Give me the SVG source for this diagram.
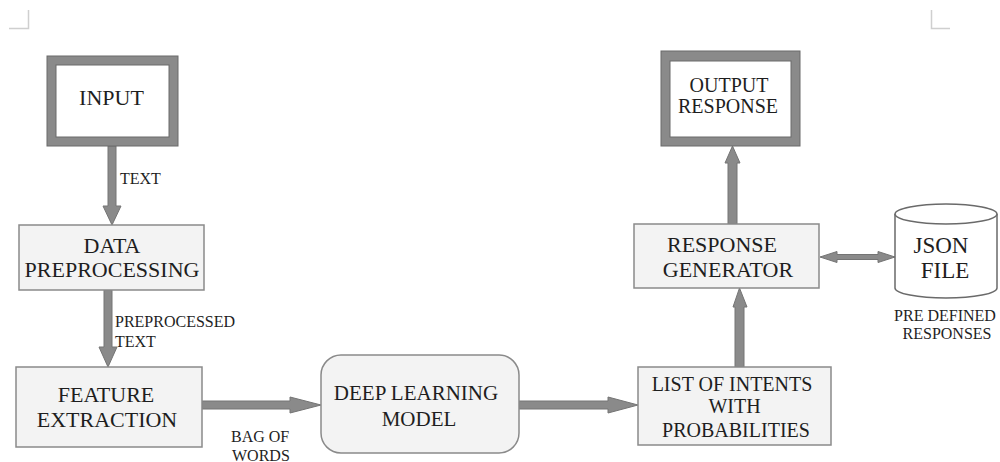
<svg xmlns="http://www.w3.org/2000/svg" width="1000" height="462" viewBox="0 0 1000 462">
<style>
.bg{fill:#ffffff}
.box{fill:#f3f3f3;stroke:#8a8a8a;stroke-width:1.5}
.frame{fill:#8a8a8a;stroke:#6a6a6a;stroke-width:1}
.inner{fill:#ffffff;stroke:#6a6a6a;stroke-width:1}
.arr{fill:#8a8a8a;stroke:#747474;stroke-width:1;stroke-linejoin:round}
.cyl{fill:#ffffff;stroke:#6a6a6a;stroke-width:1.5}
.mark{fill:none;stroke:#cfcfcf;stroke-width:1.5}
text{fill:#1e1e1e;font-family:'Times New Roman','Liberation Serif',Tinos,'DejaVu Serif',serif}
.t{font-size:22px;text-anchor:middle}
.m{font-size:20px;text-anchor:middle}
.s{font-size:16px}
.sc{font-size:16px;text-anchor:middle}
</style>
<rect class="bg" x="0" y="0" width="1000" height="462"/>
<path class="mark" d="M9,28.5 H28.5 V10"/>
<path class="mark" d="M950,28.5 H931.5 V10"/>
<g id="connectors">
  <polygon class="arr" points="108,146 116,146 116,206 121,206 112,225 103,206 108,206"/>
  <polygon class="arr" points="104,290 112,290 112,347 117,347 108,367 99,347 104,347"/>
  <polygon class="arr" points="202,401 290,401 290,397 321,405 290,413 290,409 202,409"/>
  <polygon class="arr" points="519,401 608,401 608,397 638,405 608,413 608,409 519,409"/>
  <polygon class="arr" points="735,367 744,367 744,307 747,307 739.5,288 733,307 735,307"/>
  <polygon class="arr" points="728,224 737,224 737,163 740,163 732.5,146 725,163 728,163"/>
  <polygon class="arr" points="820,257 837,251.5 837,254.5 878,254.5 878,251.5 895,257 878,262.5 878,259.5 837,259.5 837,262.5"/>
  <text class="s" x="120" y="184">TEXT</text>
  <text class="s" x="115" y="327">PREPROCESSED</text>
  <text class="s" x="115" y="347">TEXT</text>
  <text class="s" x="231" y="442">BAG OF</text>
  <text class="s" x="232" y="461">WORDS</text>
</g>

<g id="input">
  <rect class="frame" x="47" y="56" width="131" height="90"/>
  <rect class="inner" x="56" y="65" width="113" height="72"/>
  <text class="t" x="111.5" y="105">INPUT</text>
</g>

<g id="data-preprocessing">
  <rect class="box" x="19" y="225" width="185" height="65"/>
  <text class="t" x="112" y="253">DATA</text>
  <text class="t" x="112" y="277">PREPROCESSING</text>
</g>

<g id="feature-extraction">
  <rect class="box" x="16" y="367" width="186" height="80"/>
  <text class="t" x="106" y="402">FEATURE</text>
  <text class="t" x="107" y="427">EXTRACTION</text>
</g>

<g id="deep-learning-model">
  <rect class="box" x="321" y="355" width="198" height="98" rx="20" ry="20"/>
  <text class="t" x="416" y="400" style="font-size:21px">DEEP LEARNING</text>
  <text class="t" x="419" y="426" style="font-size:21px">MODEL</text>
</g>

<g id="list-of-intents">
  <rect class="box" x="638" y="367" width="193" height="78"/>
  <text class="m" x="732" y="391">LIST OF INTENTS</text>
  <text class="m" x="734.5" y="413">WITH</text>
  <text class="m" x="736" y="437">PROBABILITIES</text>
</g>

<g id="response-generator">
  <rect class="box" x="634" y="224" width="185" height="64"/>
  <text class="t" x="722" y="252">RESPONSE</text>
  <text class="t" x="728" y="277">GENERATOR</text>
</g>

<g id="output-response">
  <rect class="frame" x="661" y="51" width="139" height="95"/>
  <rect class="inner" x="670" y="61" width="121" height="76"/>
  <text class="m" x="729" y="92">OUTPUT</text>
  <text class="m" x="728" y="113">RESPONSE</text>
</g>

<g id="json-file">
  <path class="cyl" d="M895,214 V288 A51,10 0 0 0 997,288 V214 A51,10 0 0 0 895,214 Z"/>
  <path class="cyl" d="M895,214 A51,10 0 0 0 997,214" fill="none"/>
  <text class="t" x="941" y="253" style="font-size:23px">JSON</text>
  <text class="t" x="945" y="278" style="font-size:23px">FILE</text>
  <text class="sc" x="945" y="321">PRE DEFINED</text>
  <text class="sc" x="947" y="339">RESPONSES</text>
</g>
</svg>
